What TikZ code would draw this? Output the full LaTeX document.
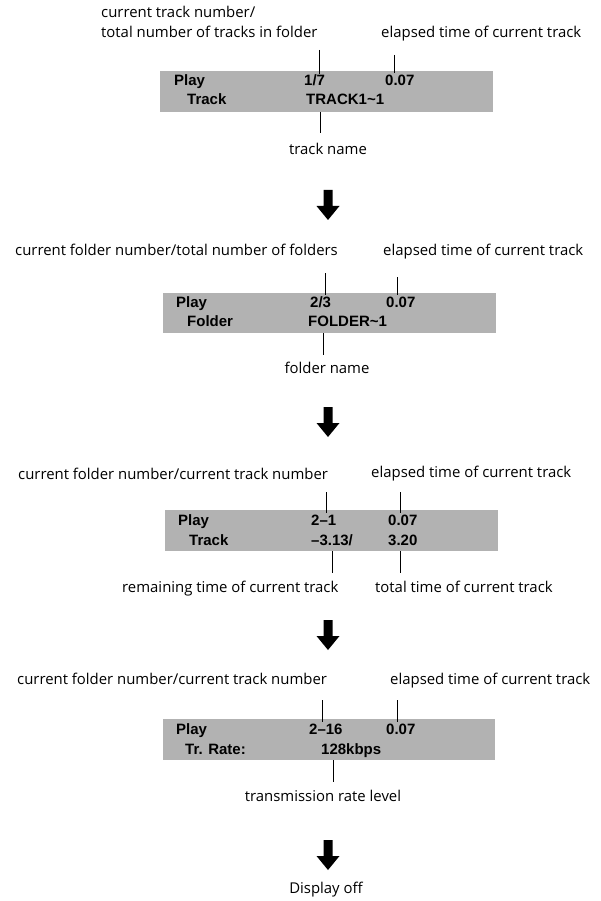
\documentclass[tikz,border=0pt]{standalone}
\usepackage{fontspec}
\setmainfont{Open Sans}
\newfontfamily\boxfont{Liberation Sans}[BoldFont={* Bold}]
\definecolor{lcdgray}{RGB}{178,178,178}
\tikzset{
  lbl/.style={inner sep=0pt, font=\fontsize{14.9}{16}\selectfont, anchor=mid west},
  lblc/.style={lbl, anchor=mid},
  lcd/.style={fill=lcdgray, draw=none},
  lcdtxt/.style={inner sep=0pt, font=\boxfont\bfseries\fontsize{15}{17}\selectfont, anchor=mid west},
  leader/.style={draw=black, line width=1pt},
  bigarrow/.style={fill=black, draw=none}
}
\newcommand{\downarrowat}[2]{%
  \fill[bigarrow] (#1-4.5,#2) -- (#1+4.5,#2) -- (#1+4.5,#2+16) -- (#1+11.5,#2+16)
    -- (#1,#2+30) -- (#1-11.5,#2+16) -- (#1-4.5,#2+16) -- cycle;}
\begin{document}
\begin{tikzpicture}[x=1pt,y=-1pt]
\useasboundingbox[fill=white] (0,0) rectangle (601,901);

% ---------- block 1 ----------
\node[lbl] (a1) at (101,15) {current track number/};
\node[lbl] (a2) at (101,35) {total number of tracks in folder};
\node[lbl] (a3) at (381,35) {elapsed time of current track};
\fill[lcd] (160,71) rectangle (493,112);
\node[lcdtxt] (a4) at (174,83) {Play};
\node[lcdtxt] (a5) at (304,83) {1/7};
\node[lcdtxt] (a6) at (385,83) {0.07};
\node[lcdtxt] (a7) at (187,102) {Track};
\node[lcdtxt] (a8) at (306,102) {TRACK1\textasciitilde1};
\node[lblc] (a9) at (328,152) {track name};
\coordinate (l1a) at (319,50); \coordinate (l1b) at (319,74);
\coordinate (l2a) at (394,55); \coordinate (l2b) at (394,73);
\coordinate (l3a) at (320,112); \coordinate (l3b) at (320,133);
\draw[leader] (l1a) -- (l1b);
\draw[leader] (l2a) -- (l2b);
\draw[leader] (l3a) -- (l3b);
\downarrowat{328}{190}

% ---------- block 2 ----------
\node[lbl] (b1) at (15,253) {current folder number/total number of folders};
\node[lbl] (b2) at (383,253) {elapsed time of current track};
\fill[lcd] (163,293) rectangle (496,333);
\node[lcdtxt] (b4) at (176,305) {Play};
\node[lcdtxt] (b5) at (310,305) {2/3};
\node[lcdtxt] (b6) at (386,305) {0.07};
\node[lcdtxt] (b7) at (187,324) {Folder};
\node[lcdtxt] (b8) at (308,324) {FOLDER\textasciitilde1};
\node[lblc] (b9) at (327,371) {folder name};
\coordinate (m1a) at (325,273); \coordinate (m1b) at (325,295);
\coordinate (m2a) at (397,277); \coordinate (m2b) at (397,295);
\coordinate (m3a) at (323,333); \coordinate (m3b) at (323,355);
\draw[leader] (m1a) -- (m1b);
\draw[leader] (m2a) -- (m2b);
\draw[leader] (m3a) -- (m3b);
\downarrowat{328}{407}

% ---------- block 3 ----------
\node[lbl] (c1) at (18,477) {current folder number/current track number};
\node[lbl] (c2) at (371,475) {elapsed time of current track};
\fill[lcd] (165,510) rectangle (498,551);
\node[lcdtxt] (c4) at (178,523) {Play};
\node[lcdtxt] (c5) at (311,523) {2–1};
\node[lcdtxt] (c6) at (388,523) {0.07};
\node[lcdtxt] (c7) at (189,543) {Track};
\node[lcdtxt] (c8) at (311,543) {–3.13/};
\node[lcdtxt] (c9) at (388,543) {3.20};
\node[lbl] (c10) at (122,590) {remaining time of current track};
\node[lbl] (c11) at (375,590) {total time of current track};
\coordinate (n1a) at (326,492); \coordinate (n1b) at (326,513);
\coordinate (n2a) at (400,492); \coordinate (n2b) at (400,513);
\coordinate (n3a) at (332,551); \coordinate (n3b) at (332,573);
\coordinate (n4a) at (400,551); \coordinate (n4b) at (400,573);
\draw[leader] (n1a) -- (n1b);
\draw[leader] (n2a) -- (n2b);
\draw[leader] (n3a) -- (n3b);
\draw[leader] (n4a) -- (n4b);
\downarrowat{328}{620}

% ---------- block 4 ----------
\node[lbl] (d1) at (17,682) {current folder number/current track number};
\node[lbl] (d2) at (390,682) {elapsed time of current track};
\fill[lcd] (163,719) rectangle (495,760);
\node[lcdtxt] (d4) at (176,732) {Play};
\node[lcdtxt] (d5) at (309,732) {2–16};
\node[lcdtxt] (d6) at (386,732) {0.07};
\node[lcdtxt] (d7) at (185,752) {Tr. Rate:};
\node[lcdtxt] (d8) at (321,752) {128kbps};
\node[lblc] (d9) at (323,799) {transmission rate level};
\coordinate (o1a) at (322,700); \coordinate (o1b) at (322,722);
\coordinate (o2a) at (397,700); \coordinate (o2b) at (397,722);
\coordinate (o3a) at (333,760); \coordinate (o3b) at (333,782);
\draw[leader] (o1a) -- (o1b);
\draw[leader] (o2a) -- (o2b);
\draw[leader] (o3a) -- (o3b);
\downarrowat{328}{840}
\node[lblc] (d10) at (326,891) {Display off};
\end{tikzpicture}
\end{document}
